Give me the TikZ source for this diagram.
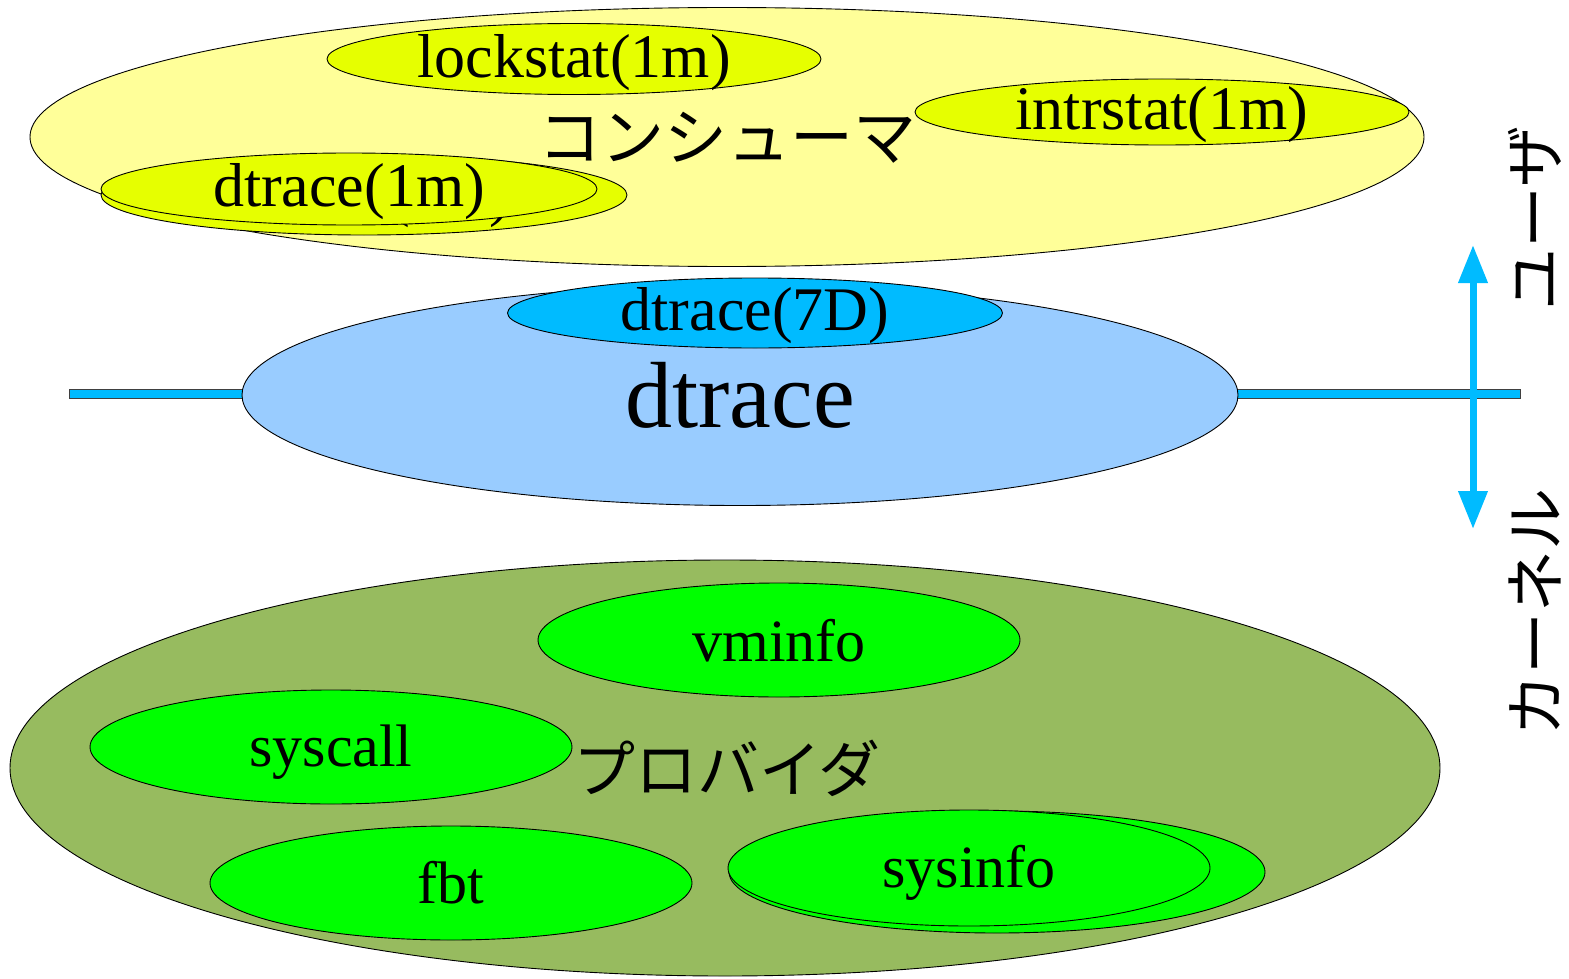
\documentclass[tikz,border=0pt]{standalone}
\usepackage{fontspec}
\setmainfont{Liberation Serif}
\newfontfamily\jp{Noto Sans CJK JP}
\usetikzlibrary{shapes.geometric,arrows.meta}
\definecolor{consumerfill}{HTML}{FFFF99}
\definecolor{toolfill}{HTML}{E6FF00}
\definecolor{corefill}{HTML}{99CCFF}
\definecolor{devfill}{HTML}{00BBFF}
\definecolor{barfill}{HTML}{00BBFF}
\definecolor{providerfill}{HTML}{97BB5F}
\definecolor{probefill}{HTML}{00FF00}
\tikzset{
  oval/.style={ellipse, draw=black, line width=0.9pt, inner sep=0pt},
  lbl/.style={inner sep=0pt, font=\fontsize{62}{70}\selectfont},
  plbl/.style={inner sep=0pt, font=\fontsize{60}{68}\selectfont},
  jlbl/.style={inner sep=0pt, font=\jp\fontsize{62}{70}\selectfont},
}
\begin{document}
\begin{tikzpicture}[x=1pt,y=-1pt]
\useasboundingbox (0,0) rectangle (1569,979);

% user/kernel boundary bar (behind the framework)
\node[draw=black!75, line width=0.9pt, fill=barfill, minimum width=1451pt, minimum height=9pt, inner sep=0pt] (bar) at (794.5,393.5) {};

% consumers
\node[oval, fill=consumerfill, minimum width=1394pt, minimum height=259pt] (cons) at (727,137) {};
\node[jlbl, font=\jp\fontsize{63}{70}\selectfont] (consT) at (727,138) {コンシューマ};
\node[oval, fill=toolfill, minimum width=494pt, minimum height=71pt] (lock) at (574,59) {};
\node[lbl] (lockT) at (574,63) {lockstat(1m)};
\node[oval, fill=toolfill, minimum width=494pt, minimum height=66pt] (intr) at (1162,112) {};
\node[lbl] (intrT) at (1162,115) {intrstat(1m)};
\node[oval, fill=toolfill, minimum width=526pt, minimum height=80pt] (dtB) at (364,195) {};
\node[lbl] (dtBT) at (374,200) {dtrace(1m)};
\node[oval, fill=toolfill, minimum width=496pt, minimum height=72pt] (dt) at (349,189) {};
\node[lbl] (dtT) at (349,192) {dtrace(1m)};

% framework
\node[oval, fill=corefill, minimum width=996pt, minimum height=221pt] (core) at (740,395) {};
\node[inner sep=0pt, font=\fontsize{94}{100}\selectfont] (coreT) at (740,395) {dtrace};
\node[oval, fill=devfill, minimum width=495pt, minimum height=70pt] (dev) at (755,313) {};
\node[lbl] (devT) at (755,316) {dtrace(7D)};

% providers
\node[oval, fill=providerfill, minimum width=1430pt, minimum height=416pt] (prov) at (725,768) {};
\node[jlbl] (provT) at (727,768) {プロバイダ};
\node[oval, fill=probefill, minimum width=482pt, minimum height=114pt] (vm) at (779,640) {};
\node[plbl] (vmT) at (779,641) {vminfo};
\node[oval, fill=probefill, minimum width=482pt, minimum height=114pt] (sc) at (331,747) {};
\node[plbl] (scT) at (331,752) {syscall};
\node[oval, fill=probefill, minimum width=482pt, minimum height=114pt] (fbt) at (451,883) {};
\node[plbl] (fbtT) at (451,883) {fbt};
\node[oval, fill=probefill, minimum width=536pt, minimum height=122pt] (siB) at (997,872) {};
\node[oval, fill=probefill, minimum width=482pt, minimum height=116pt] (si) at (969,868) {};
\node[plbl] (siT) at (969,873) {sysinfo};

% user / kernel direction
\coordinate (up) at (1473,245);
\coordinate (down) at (1473,529);
\draw[line width=7pt, draw=barfill, {Triangle[length=38pt,width=28pt]}-{Triangle[length=38pt,width=28pt]}] (down) -- (up);
\node[jlbl, rotate=90] (user) at (1535,218) {ユーザ};
\node[jlbl, rotate=90] (kern) at (1535,612) {カーネル};
\end{tikzpicture}
\end{document}
